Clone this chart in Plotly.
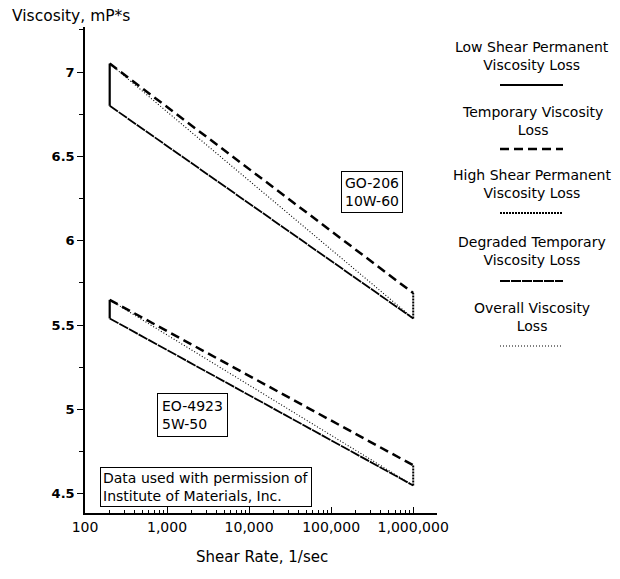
import plotly.graph_objects as go

# ---- data ----
shear_ends = [200, 1000000]
go206_temporary = [7.05, 5.69]
go206_degraded = [6.80, 5.54]
eo4923_temporary = [5.65, 4.67]
eo4923_degraded = [5.54, 4.55]

x_tick_vals = [100, 1000, 10000, 100000, 1000000]
x_tick_text = ["100", "1,000", "10,000", "100,000", "1,000,000"]
y_tick_vals = [4.5, 5, 5.5, 6, 6.5, 7]
y_tick_text = ["4.5", "5", "5.5", "6", "6.5", "7"]

legend_names = [
    "Low Shear Permanent<br>Viscosity Loss",
    "Temporary Viscosity<br>Loss",
    "High Shear Permanent<br>Viscosity Loss",
    "Degraded Temporary<br>Viscosity Loss",
    "Overall Viscosity<br>Loss",
]

# page offset (browser body margin)
OFF = 8
W, H = 620 - OFF, 579 - OFF
# plot area in screen pixels
L, R, T, B = 85, 437, 27, 513

FONT = "DejaVu Sans"

styles = {
    "low": dict(color="black", width=2.2, dash="solid"),
    "temp": dict(color="black", width=2.5, dash="9px,5px"),
    "high": dict(color="black", width=2, dash="2px,1px"),
    "degr": dict(color="black", width=1.8, dash="10px,1px"),
    "over": dict(color="black", width=1.1, dash="1px,2px"),
}

fig = go.Figure()


def add_oil(temp, degr):
    fig.add_trace(go.Scatter(x=shear_ends, y=temp, mode="lines", line=styles["temp"], showlegend=False))
    fig.add_trace(go.Scatter(x=shear_ends, y=degr, mode="lines", line=styles["degr"], showlegend=False))
    fig.add_trace(go.Scatter(x=[shear_ends[0], shear_ends[0]], y=[degr[0], temp[0]], mode="lines",
                             line=styles["low"], showlegend=False))
    fig.add_trace(go.Scatter(x=[shear_ends[1], shear_ends[1]], y=[degr[1], temp[1]], mode="lines",
                             line=styles["high"], showlegend=False))
    fig.add_trace(go.Scatter(x=shear_ends, y=[temp[0], degr[1]], mode="lines", line=styles["over"],
                             showlegend=False))


add_oil(go206_temporary, go206_degraded)
add_oil(eo4923_temporary, eo4923_degraded)


def px(x):
    return (x - L) / (R - L)


def py(y):
    return (B - y) / (B - T)


annotations = []
shapes = []

# legend (custom, text above sample line)
legend_text_y = [56, 121, 184, 251, 317]
legend_line_y = [85, 149, 213, 281, 346]
legend_keys = ["low", "temp", "high", "degr", "over"]
for name, ty, ly, key in zip(legend_names, legend_text_y, legend_line_y, legend_keys):
    annotations.append(dict(xref="paper", yref="paper", x=px(532), y=py(ty), text=name, showarrow=False,
                            align="center", xanchor="center", yanchor="middle",
                            font=dict(family=FONT, size=14, color="black")))
    st = styles[key]
    shapes.append(dict(type="line", xref="paper", yref="paper", x0=px(500), x1=px(563), y0=py(ly), y1=py(ly),
                       line=dict(color="black", width=st["width"], dash=st["dash"])))

# labelled boxes
annotations.append(dict(xref="paper", yref="paper", x=px(372), y=py(192), text="GO-206<br>10W-60",
                        showarrow=False, align="left", xanchor="center", yanchor="middle",
                        bordercolor="black", borderwidth=1, borderpad=3,
                        bgcolor="white", font=dict(family=FONT, size=14, color="black")))
annotations.append(dict(xref="paper", yref="paper", x=px(192), y=py(415), text="EO-4923<br>5W-50",
                        showarrow=False, align="left", xanchor="center", yanchor="middle",
                        bordercolor="black", borderwidth=1, borderpad=4,
                        bgcolor="white", font=dict(family=FONT, size=14, color="black")))
annotations.append(dict(xref="paper", yref="paper", x=px(100), y=py(487),
                        text="Data used with permission of<br>Institute of Materials, Inc.",
                        showarrow=False, align="left", xanchor="left", yanchor="middle",
                        bordercolor="black", borderwidth=1,
                        borderpad=2, bgcolor="white", font=dict(family=FONT, size=14, color="black")))

# axis titles
annotations.append(dict(xref="paper", yref="paper", x=px(10), y=py(16), text="Viscosity, mP*s", showarrow=False,
                        xanchor="left", yanchor="middle", font=dict(family=FONT, size=15.5, color="black")))
annotations.append(dict(xref="paper", yref="paper", x=px(262), y=py(557), text="Shear Rate, 1/sec",
                        showarrow=False, xanchor="center", yanchor="middle",
                        font=dict(family=FONT, size=15, color="black")))

fig.update_layout(
    width=W, height=H,
    margin=dict(l=L - OFF, r=620 - R, t=T - OFF, b=579 - B),
    paper_bgcolor="white", plot_bgcolor="white",
    showlegend=False,
    annotations=annotations,
    shapes=shapes,
    font=dict(family=FONT, color="black"),
)

fig.update_xaxes(type="log", range=[2, 6.29], tickvals=x_tick_vals, ticktext=x_tick_text,
                 ticks="inside", ticklen=6, tickcolor="black", showline=True, linecolor="black", linewidth=1.5,
                 showgrid=False, zeroline=False, tickfont=dict(family=FONT, size=14, color="black"),
                 minor=dict(ticks="inside", ticklen=3, tickcolor="black", dtick="D1", showgrid=False))
fig.update_yaxes(range=[4.387, 7.267], tickvals=y_tick_vals, ticktext=y_tick_text,
                 ticks="outside", ticklen=6, tickcolor="black", showline=True, linecolor="black", linewidth=1.5,
                 showgrid=False, zeroline=False,
                 tickfont=dict(family=FONT, size=13, color="black", weight="bold"),
                 minor=dict(ticks="outside", ticklen=4, tickcolor="black", dtick=0.25, showgrid=False))

fig.write_html("out.html")
